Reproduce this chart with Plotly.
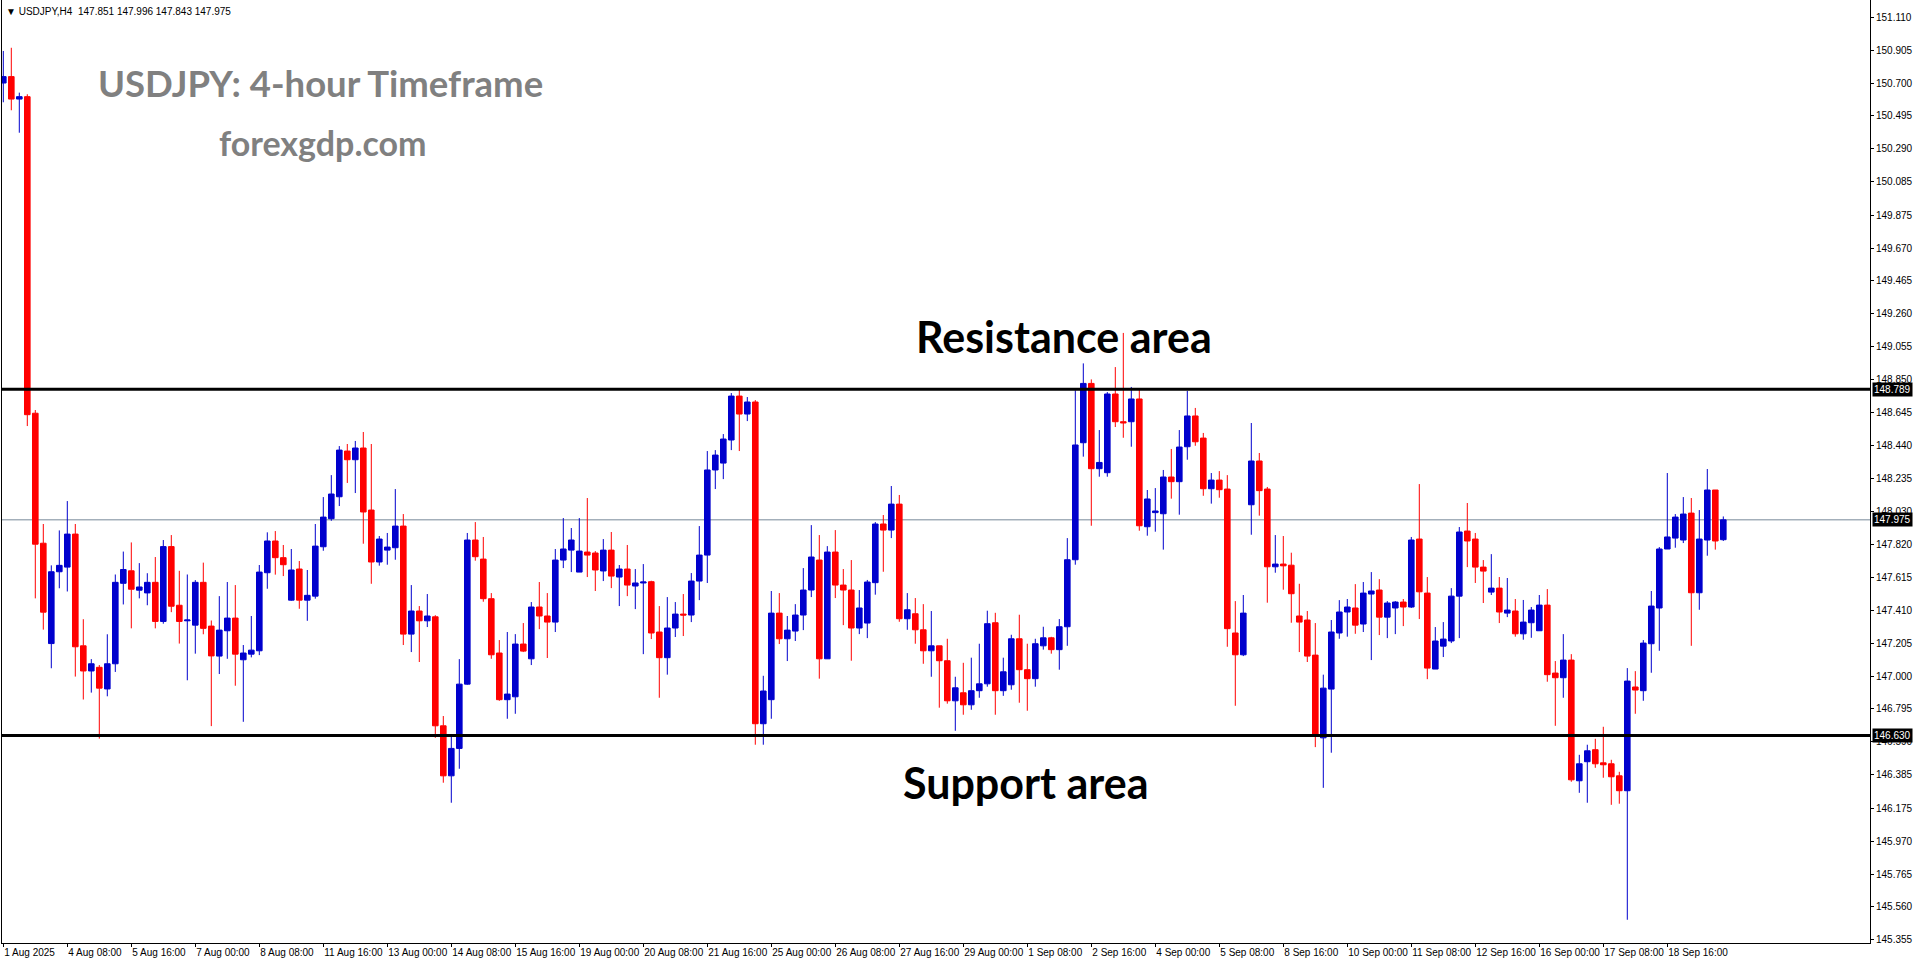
import plotly.graph_objects as go

# ---------------- data (USDJPY H4) ----------------
open_ = [150.700, 150.740, 150.600, 150.615, 148.640, 147.829, 147.203, 147.651, 147.680, 147.886,
         147.189, 147.032, 147.055, 146.920, 147.077, 147.579, 147.657, 147.536, 147.519, 147.585,
         147.341, 147.808, 147.442, 147.345, 147.318, 147.585, 147.312, 147.125, 147.283, 147.362,
         147.102, 147.137, 147.158, 147.645, 147.843, 147.739, 147.474, 147.668, 147.474, 147.499,
         147.807, 147.982, 148.119, 148.404, 148.350, 148.423, 148.036, 147.712, 147.786, 147.801,
         147.936, 147.262, 147.406, 147.345, 147.370, 146.690, 146.378, 146.549, 146.950, 147.849,
         147.730, 147.483, 147.144, 146.853, 146.871, 147.200, 147.108, 147.431, 147.375, 147.337,
         147.724, 147.786, 147.649, 147.774, 147.768, 147.656, 147.786, 147.618, 147.668, 147.562,
         147.581, 147.589, 147.275, 147.115, 147.300, 147.387, 147.381, 147.593, 147.755, 148.286,
         148.329, 148.473, 148.747, 148.635, 148.710, 146.703, 146.853, 147.393, 147.233, 147.281,
         147.381, 147.537, 147.724, 147.108, 147.774, 147.568, 147.537, 147.300, 147.331, 147.583,
         147.949, 147.911, 148.073, 147.358, 147.389, 147.289, 147.158, 147.189, 147.096, 146.846,
         146.896, 146.821, 146.909, 146.952, 147.333, 146.909, 146.946, 147.233, 147.040, 146.984,
         147.189, 147.239, 147.165, 147.308, 147.726, 148.456, 148.826, 148.294, 148.269, 148.760,
         148.587, 148.587, 148.729, 147.932, 148.020, 148.013, 148.242, 148.213, 148.431, 148.623,
         148.485, 148.169, 148.223, 148.167, 147.269, 147.133, 148.069, 148.342, 148.167, 147.682,
         147.699, 147.692, 147.375, 147.350, 147.131, 146.615, 146.919, 147.269, 147.400, 147.425,
         147.325, 147.512, 147.537, 147.368, 147.425, 147.462, 147.431, 147.855, 147.518, 147.044,
         147.187, 147.219, 147.499, 147.905, 147.855, 147.680, 147.524, 147.549, 147.393, 147.406,
         147.264, 147.333, 147.283, 147.443, 147.019, 146.990, 147.100, 146.347, 146.466, 146.541,
         146.459, 146.453, 146.378, 146.285, 146.932, 146.909, 147.202, 147.425, 147.793, 147.861,
         147.849, 148.017, 147.520, 147.849, 148.161, 147.851]

high = [150.900, 150.920, 150.640, 150.630, 148.660, 147.949, 147.691, 147.909, 148.092, 147.949,
        147.355, 147.106, 147.069, 147.261, 147.634, 147.777, 147.834, 147.705, 147.642, 147.743,
        147.849, 147.880, 147.657, 147.634, 147.599, 147.708, 147.347, 147.499, 147.587, 147.568,
        147.194, 147.375, 147.693, 147.897, 147.905, 147.818, 147.793, 147.718, 147.662, 147.949,
        148.117, 148.254, 148.435, 148.448, 148.467, 148.523, 148.448, 147.874, 147.893, 148.167,
        148.011, 147.568, 147.437, 147.512, 147.380, 146.751, 146.622, 147.106, 147.893, 147.961,
        147.868, 147.518, 147.225, 147.275, 147.262, 147.331, 147.462, 147.587, 147.518, 147.793,
        147.986, 147.924, 147.986, 148.111, 147.780, 147.855, 147.899, 147.693, 147.818, 147.668,
        147.699, 147.595, 147.437, 147.493, 147.462, 147.512, 147.643, 147.936, 148.404, 148.410,
        148.510, 148.766, 148.785, 148.741, 148.722, 147.002, 147.531, 147.518, 147.375, 147.449,
        147.674, 147.942, 147.880, 147.811, 147.911, 147.668, 147.724, 147.537, 147.600, 147.961,
        148.005, 148.186, 148.130, 147.518, 147.487, 147.449, 147.406, 147.189, 147.233, 146.996,
        147.083, 147.115, 147.202, 147.408, 147.395, 147.115, 147.258, 147.383, 147.202, 147.233,
        147.308, 147.245, 147.356, 147.861, 148.783, 148.951, 148.851, 148.535, 148.772, 148.928,
        149.141, 148.804, 148.785, 148.161, 148.173, 148.286, 148.417, 148.535, 148.779, 148.673,
        148.517, 148.267, 148.279, 148.254, 147.468, 147.506, 148.579, 148.392, 148.180, 147.880,
        147.874, 147.770, 147.576, 147.406, 147.331, 147.009, 147.350, 147.474, 147.481, 147.574,
        147.587, 147.649, 147.605, 147.468, 147.468, 147.481, 147.868, 148.198, 147.618, 147.306,
        147.337, 147.549, 147.930, 148.080, 147.893, 147.724, 147.761, 147.618, 147.612, 147.481,
        147.475, 147.431, 147.506, 147.543, 147.094, 147.262, 147.137, 146.509, 146.572, 146.609,
        146.684, 146.478, 146.403, 147.050, 147.031, 147.225, 147.531, 147.805, 148.267, 148.011,
        148.117, 148.111, 148.036, 148.292, 148.161, 147.996]

low = [150.580, 150.530, 150.390, 148.560, 147.485, 147.290, 147.049, 147.548, 147.528, 146.997,
       146.854, 146.897, 146.610, 146.874, 147.026, 147.447, 147.298, 147.485, 147.442, 147.298,
       147.327, 147.399, 147.203, 146.974, 147.140, 147.261, 146.688, 147.013, 147.108, 146.940,
       146.715, 147.117, 147.131, 147.545, 147.633, 147.624, 147.470, 147.420, 147.345, 147.483,
       147.782, 147.969, 148.061, 148.205, 148.142, 147.826, 147.576, 147.689, 147.695, 147.726,
       147.194, 147.150, 147.088, 147.306, 146.615, 146.335, 146.210, 146.422, 146.946, 147.720,
       147.464, 147.108, 146.846, 146.734, 146.765, 147.150, 147.069, 147.293, 147.113, 147.275,
       147.674, 147.649, 147.649, 147.618, 147.531, 147.593, 147.549, 147.437, 147.499, 147.418,
       147.137, 147.231, 146.865, 147.009, 147.244, 147.250, 147.337, 147.474, 147.581, 148.167,
       148.229, 148.410, 148.404, 148.591, 146.572, 146.572, 146.734, 147.200, 147.094, 147.219,
       147.287, 147.493, 146.984, 147.108, 147.487, 147.318, 147.096, 147.262, 147.237, 147.508,
       147.651, 147.861, 147.339, 147.289, 147.202, 147.077, 146.996, 146.803, 146.828, 146.659,
       146.759, 146.790, 146.865, 146.934, 146.759, 146.877, 146.915, 146.834, 146.784, 146.934,
       147.165, 147.140, 147.040, 147.189, 147.695, 148.369, 147.938, 148.244, 148.244, 148.554,
       148.487, 148.431, 147.907, 147.876, 147.901, 147.789, 148.107, 148.007, 148.350, 148.437,
       148.125, 148.076, 148.113, 147.183, 146.815, 147.125, 147.882, 148.001, 147.458, 147.645,
       147.539, 147.333, 147.150, 147.088, 146.557, 146.303, 146.522, 147.233, 147.246, 147.264,
       147.275, 147.100, 147.256, 147.237, 147.262, 147.312, 147.425, 147.356, 146.981, 147.044,
       147.119, 147.206, 147.237, 147.680, 147.581, 147.456, 147.506, 147.331, 147.368, 147.246,
       147.227, 147.239, 147.283, 146.965, 146.690, 146.865, 146.341, 146.272, 146.210, 146.428,
       146.366, 146.197, 146.204, 145.480, 146.765, 146.846, 147.021, 147.158, 147.793, 147.801,
       147.830, 147.189, 147.414, 147.751, 147.789, 147.843]

close = [150.740, 150.600, 150.615, 148.631, 147.823, 147.399, 147.651, 147.691, 147.886, 147.183,
         147.032, 147.077, 146.925, 147.077, 147.585, 147.665, 147.542, 147.556, 147.585, 147.341,
         147.808, 147.436, 147.341, 147.350, 147.585, 147.298, 147.126, 147.287, 147.362, 147.137,
         147.144, 147.162, 147.649, 147.843, 147.739, 147.695, 147.662, 147.474, 147.504, 147.811,
         147.992, 148.136, 148.410, 148.350, 148.423, 148.024, 147.712, 147.855, 147.805, 147.936,
         147.262, 147.406, 147.345, 147.375, 146.690, 146.378, 146.549, 146.950, 147.849, 147.745,
         147.483, 147.133, 146.853, 146.888, 147.200, 147.156, 147.431, 147.375, 147.337, 147.724,
         147.793, 147.849, 147.780, 147.755, 147.662, 147.786, 147.624, 147.668, 147.568, 147.581,
         147.587, 147.269, 147.115, 147.300, 147.387, 147.381, 147.593, 147.755, 148.286, 148.379,
         148.479, 148.747, 148.635, 148.710, 146.703, 146.907, 147.393, 147.233, 147.287, 147.381,
         147.537, 147.743, 147.108, 147.774, 147.568, 147.537, 147.300, 147.425, 147.587, 147.949,
         147.911, 148.073, 147.358, 147.414, 147.289, 147.158, 147.189, 147.096, 146.846, 146.927,
         146.821, 146.909, 146.952, 147.327, 146.909, 147.027, 147.233, 147.040, 146.984, 147.202,
         147.239, 147.165, 147.308, 147.726, 148.442, 148.826, 148.294, 148.333, 148.760, 148.587,
         148.580, 148.729, 147.938, 148.105, 148.030, 148.242, 148.213, 148.429, 148.623, 148.462,
         148.169, 148.223, 148.163, 147.296, 147.133, 147.393, 148.342, 148.157, 147.682, 147.699,
         147.688, 147.514, 147.337, 147.125, 146.634, 146.925, 147.275, 147.400, 147.431, 147.318,
         147.518, 147.531, 147.368, 147.456, 147.462, 147.431, 147.849, 147.526, 147.050, 147.219,
         147.231, 147.499, 147.899, 147.843, 147.680, 147.655, 147.549, 147.400, 147.412, 147.264,
         147.337, 147.412, 147.443, 147.009, 146.990, 147.100, 146.353, 146.453, 146.534, 146.453,
         146.447, 146.372, 146.285, 146.969, 146.913, 147.206, 147.437, 147.793, 147.868, 147.992,
         148.011, 147.520, 147.855, 148.161, 147.843, 147.975]

x_labels = ["1 Aug 2025", "4 Aug 08:00", "5 Aug 16:00", "7 Aug 00:00", "8 Aug 08:00",
            "11 Aug 16:00", "13 Aug 00:00", "14 Aug 08:00", "15 Aug 16:00", "19 Aug 00:00",
            "20 Aug 08:00", "21 Aug 16:00", "25 Aug 00:00", "26 Aug 08:00", "27 Aug 16:00",
            "29 Aug 00:00", "1 Sep 08:00", "2 Sep 16:00", "4 Sep 00:00", "5 Sep 08:00",
            "8 Sep 16:00", "10 Sep 00:00", "11 Sep 08:00", "12 Sep 16:00", "16 Sep 00:00",
            "17 Sep 08:00", "18 Sep 16:00"]
bars_per_label = 8

y_ticks = [151.110, 150.905, 150.700, 150.495, 150.290, 150.085, 149.875, 149.670, 149.465,
           149.260, 149.055, 148.850, 148.645, 148.440, 148.235, 148.030, 147.820, 147.615,
           147.410, 147.205, 147.000, 146.795, 146.590, 146.385, 146.175, 145.970, 145.765,
           145.560, 145.355]

resistance = 148.789
support = 146.630
last_price = 147.975
header = "USDJPY,H4\u00a0\u00a0147.851 147.996 147.843 147.975"

# ---------------- figure ----------------
W, H = 1916, 964
ML, MR, MT, MB = 2, 46, 0, 21
PW, PH = W - ML - MR, H - MT - MB
BLUE, RED = "#0000CD", "#FF0000"
idx = list(range(len(close)))

fig = go.Figure()
fig.add_trace(go.Candlestick(
    x=idx, open=open_, high=high, low=low, close=close,
    increasing=dict(line=dict(color=BLUE, width=1), fillcolor=BLUE),
    decreasing=dict(line=dict(color=RED, width=1), fillcolor=RED),
    whiskerwidth=0, hoverinfo="skip", showlegend=False,
))

# pixel helpers for text placement
def px_x(p):
    return (p - ML) / PW

def px_y(p):
    return (H - MB - p) / PH

lbl_font = dict(family="Liberation Sans, Arial, sans-serif", size=10, color="black")

fig.update_layout(
    width=W, height=H,
    margin=dict(l=ML, r=MR, t=MT, b=MB, pad=0, autoexpand=False),
    paper_bgcolor="white", plot_bgcolor="white",
    showlegend=False, boxgap=0.3, boxgroupgap=0.0,
    xaxis=dict(range=[(ML - 3.3) / 8, (W - MR - 3.3) / 8],
               rangeslider=dict(visible=False),
               tickmode="array",
               tickvals=[i * bars_per_label for i in range(len(x_labels))],
               ticktext=x_labels, ticks="outside", ticklen=3, tickcolor="black",
               ticklabelposition="outside right", tickangle=0,
               showline=True, linecolor="black", linewidth=1,
               showgrid=False, zeroline=False, tickfont=lbl_font, fixedrange=True),
    yaxis=dict(range=[145.335, 151.218], side="right",
               tickmode="array", tickvals=y_ticks,
               ticktext=[f"{v:.3f}" for v in y_ticks],
               ticks="outside", ticklen=3, tickcolor="black",
               showline=True, linecolor="black", linewidth=1, mirror=True,
               showgrid=False, zeroline=False, tickfont=lbl_font, fixedrange=True),
)

# horizontal levels
fig.add_shape(type="line", xref="paper", x0=0, x1=1, yref="y", y0=last_price, y1=last_price,
              line=dict(color="#778899", width=1), layer="below")
for lvl in (resistance, support):
    fig.add_shape(type="line", xref="paper", x0=0, x1=1, yref="y", y0=lvl, y1=lvl,
                  line=dict(color="black", width=3), layer="above")

# price tags on the right axis
for lvl in (resistance, last_price, support):
    fig.add_annotation(xref="paper", x=1, yref="y", y=lvl, text=f"{lvl:.3f}",
                       showarrow=False, xanchor="left", yanchor="middle", xshift=2,
                       bgcolor="black", borderpad=1,
                       font=dict(family="Liberation Sans, Arial, sans-serif", size=10, color="white"))

# header
fig.add_annotation(xref="paper", yref="paper", x=px_x(4), y=px_y(4), text="\u25bc " + header,
                   showarrow=False, xanchor="left", yanchor="top", font=lbl_font)

title_font = dict(family="Lato, sans-serif", size=36.5, color="#808080", weight="bold")
fig.add_annotation(xref="paper", yref="paper", x=px_x(320), y=px_y(83),
                   text="USDJPY: 4-hour Timeframe", showarrow=False,
                   xanchor="center", yanchor="middle", font=title_font)
fig.add_annotation(xref="paper", yref="paper", x=px_x(323), y=px_y(143),
                   text="forexgdp.com", showarrow=False,
                   xanchor="center", yanchor="middle",
                   font=dict(family="Lato, sans-serif", size=34, color="#808080", weight="bold"))

area_font = dict(family="Lato, sans-serif", size=43, color="black", weight="bold")
fig.add_annotation(xref="paper", yref="paper", x=px_x(1064), y=px_y(337),
                   text="Resistance area", showarrow=False,
                   xanchor="center", yanchor="middle", font=area_font)
fig.add_annotation(xref="paper", yref="paper", x=px_x(1026), y=px_y(782),
                   text="Support area", showarrow=False,
                   xanchor="center", yanchor="middle", font=area_font)

fig.write_html("out.html", include_plotlyjs=True,
               config={"displayModeBar": False, "staticPlot": True},
               post_script="document.body.style.margin='0';document.body.style.overflow='hidden';")
